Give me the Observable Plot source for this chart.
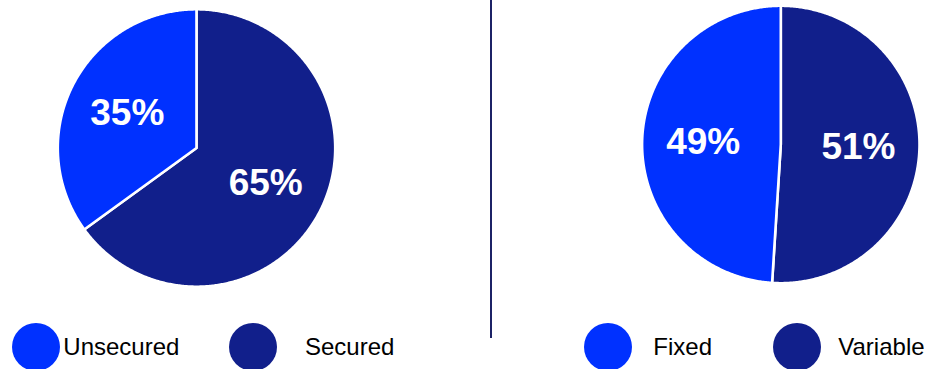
<!DOCTYPE html>
<html><head><meta charset="utf-8">
<script src="https://cdn.jsdelivr.net/npm/d3@7"></script>
<script src="https://cdn.jsdelivr.net/npm/@observablehq/plot@0.6"></script>
<style>
html,body{margin:0;padding:0;background:#fff;}
#wrap{position:relative;width:929px;height:369px;overflow:hidden;font-family:"Liberation Sans",Arial,sans-serif;}
.pie{position:absolute;top:0;}
.divider{position:absolute;left:489.5px;top:0;width:2.5px;height:338px;background:#1c2266;}
.sw{position:absolute;width:48px;height:48px;border-radius:50%;}
.lt{position:absolute;font-size:24px;line-height:26px;color:#000;white-space:nowrap;}
</style>
</head><body>
<div id="wrap"><div class="divider"></div></div>
<script>
// ---- data ----
const leftCategories = ["Secured", "Unsecured"];
const leftValues = [65, 35];
const rightCategories = ["Variable", "Fixed"];
const rightValues = [51, 49];
const legendLeft = ["Unsecured", "Secured"];
const legendRight = ["Fixed", "Variable"];

// ---- styles ----
const BRIGHT = "#0031ff", NAVY = "#111f8b";
const colorOf = {Secured: NAVY, Unsecured: BRIGHT, Variable: NAVY, Fixed: BRIGHT};
const FONT = "Liberation Sans, Arial, sans-serif";

function pieChart(cats, vals, w, h, cx, cy, r) {
  const total = d3.sum(vals);
  let a = 0;
  const pts = [], labels = [];
  cats.forEach((c, i) => {
    const a0 = a, a1 = a + vals[i] / total * 2 * Math.PI; a = a1;
    const n = Math.max(2, Math.ceil((a1 - a0) / (Math.PI / 360)));
    pts.push({k: c, x: 0, y: 0});
    for (let j = 0; j <= n; j++) {
      const t = a0 + (a1 - a0) * j / n;
      pts.push({k: c, x: Math.sin(t), y: Math.cos(t)});
    }
    pts.push({k: c, x: 0, y: 0});
    const m = (a0 + a1) / 2;
    labels.push({k: c, x: 0.56 * Math.sin(m), y: 0.56 * Math.cos(m), t: vals[i] + "%"});
  });
  return Plot.plot({
    width: w, height: h, margin: 0,
    style: {fontFamily: FONT, background: "transparent"},
    x: {domain: [-1, 1], range: [cx - r, cx + r], axis: null},
    y: {domain: [-1, 1], range: [cy + r, cy - r], axis: null},
    color: {type: "identity"},
    marks: [
      Plot.line(pts, {x: "x", y: "y", z: "k", fill: d => colorOf[d.k], stroke: "white", strokeWidth: 2.6, strokeLinejoin: "round", curve: "linear"}),
      Plot.text(labels, {x: "x", y: "y", text: "t", fill: "white", fontSize: 37, fontWeight: "bold", fontFamily: FONT})
    ]
  });
}

const wrap = document.getElementById("wrap");
const p1 = pieChart(leftCategories, leftValues, 470, 300, 196, 147.5, 138.7);
p1.classList.add("pie"); p1.style.left = "0px";
wrap.appendChild(p1);
const p2 = pieChart(rightCategories, rightValues, 459, 300, 310.3, 144, 138.7);
p2.classList.add("pie"); p2.style.left = "470px";
wrap.appendChild(p2);

// ---- legend layout ----
const legendLayout = [
  {label: legendLeft[0], cx: 36, tx: 63.3},
  {label: legendLeft[1], cx: 253, tx: 305},
  {label: legendRight[0], cx: 608.2, tx: 653.3},
  {label: legendRight[1], cx: 797.2, tx: 838.3}
];
legendLayout.forEach(d => {
  const s = document.createElement("div");
  s.className = "sw";
  s.style.left = (d.cx - 24) + "px";
  s.style.top = (346.7 - 24) + "px";
  s.style.background = colorOf[d.label];
  wrap.appendChild(s);
  const t = document.createElement("div");
  t.className = "lt";
  t.style.left = d.tx + "px";
  t.style.top = "334.4px";
  t.textContent = d.label;
  wrap.appendChild(t);
});
</script>
</body></html>
